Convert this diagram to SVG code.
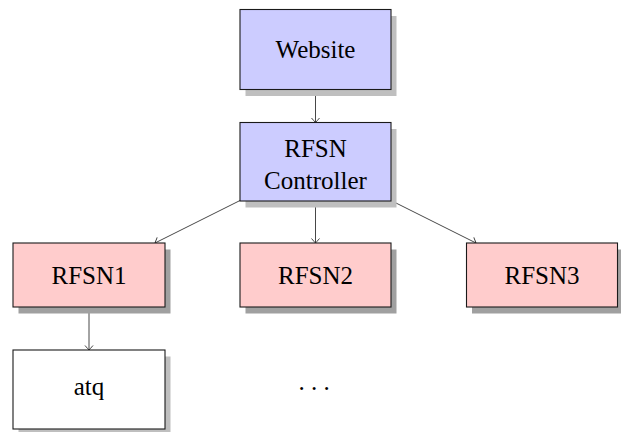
<svg xmlns="http://www.w3.org/2000/svg" width="621" height="432" viewBox="0 0 621 432">
  <style>
    .box { stroke: #1a1a1a; stroke-width: 1.1; }
    .web { fill: #ccccff; }
    .rfsn { fill: #ffcccc; }
    .plain { fill: #ffffff; }
    .sh-light { fill: #bfbfbf; }
    .sh-dark { fill: #a0a0a0; }
    .lbl { font-family: "Liberation Serif", "Times New Roman", serif; font-size: 25px; fill: #000; text-anchor: middle; }
    .edge { stroke: #333; stroke-width: 0.9; fill: none; marker-end: url(#to); }
  </style>
  <defs>
    <marker id="to" markerUnits="userSpaceOnUse" viewBox="-6 -5 8 10" refX="0" refY="0" markerWidth="8" markerHeight="10" orient="auto">
      <path d="M -4.5,-4 Q -1.2,-1.2 0,0 Q -1.2,1.2 -4.5,4" fill="none" stroke="#333" stroke-width="0.9"/>
    </marker>
  </defs>
  <rect width="621" height="432" fill="#ffffff"/>

  <!-- connectors -->
  <g id="connectors">
    <line class="edge" x1="315.5" y1="89.5" x2="315.5" y2="122.5"/>
    <line class="edge" x1="240" y1="200.5" x2="155" y2="243"/>
    <line class="edge" x1="315.5" y1="201" x2="315.5" y2="243"/>
    <line class="edge" x1="391" y1="200.5" x2="476" y2="243"/>
    <line class="edge" x1="89" y1="307" x2="89" y2="350"/>
  </g>

  <g id="website">
    <rect class="sh-light" x="245.5" y="16" width="151" height="80"/>
    <rect class="box web" x="240" y="9.5" width="151" height="80"/>
    <text class="lbl" x="315.5" y="57.5">Website</text>
  </g>

  <g id="controller">
    <rect class="sh-light" x="245.5" y="129" width="151" height="78.5"/>
    <rect class="box web" x="240" y="122.5" width="151" height="78.5"/>
    <text class="lbl" x="315.5" y="157">RFSN</text>
    <text class="lbl" x="315.5" y="188.5">Controller</text>
  </g>

  <g id="rfsn1">
    <rect class="sh-dark" x="18.5" y="249.5" width="152" height="64"/>
    <rect class="box rfsn" x="13" y="243" width="152" height="64"/>
    <text class="lbl" x="89" y="284">RFSN1</text>
  </g>

  <g id="rfsn2">
    <rect class="sh-dark" x="245.5" y="249.5" width="151" height="64"/>
    <rect class="box rfsn" x="240" y="243" width="151" height="64"/>
    <text class="lbl" x="315.5" y="284">RFSN2</text>
  </g>

  <g id="rfsn3">
    <rect class="sh-dark" x="472" y="249.5" width="151" height="64"/>
    <rect class="box rfsn" x="466.5" y="243" width="151" height="64"/>
    <text class="lbl" x="542" y="284">RFSN3</text>
  </g>

  <g id="atq">
    <rect class="sh-light" x="18.5" y="356.5" width="152" height="79"/>
    <rect class="box plain" x="13" y="350" width="152" height="79"/>
    <text class="lbl" x="89" y="395">atq</text>
  </g>

  <g id="more">
    <text class="lbl" x="314" y="390">. . .</text>
  </g>
</svg>
